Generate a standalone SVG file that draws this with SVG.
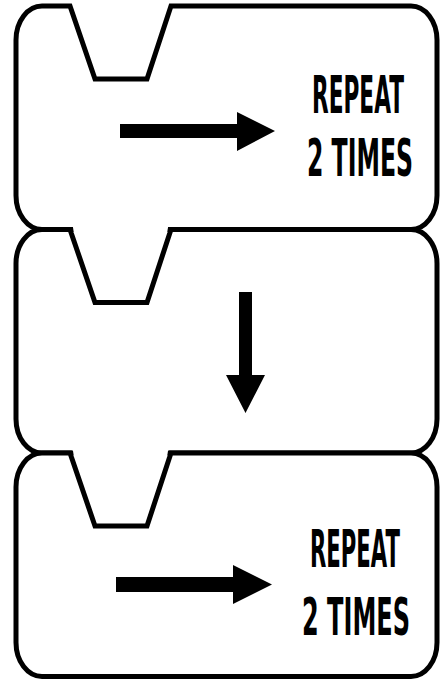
<svg xmlns="http://www.w3.org/2000/svg" xmlns:xlink="http://www.w3.org/1999/xlink" width="440" height="681" viewBox="0 0 440 681">
<style>
.blk{fill:#fff;stroke:#000;stroke-width:5;stroke-linejoin:miter}
.gap{fill:#fff;stroke:none}
.arr{fill:#000;stroke:none}
.lbl{font-family:"DejaVu Sans","Liberation Sans",sans-serif;font-weight:bold;font-size:51px;fill:#000}
</style>
<defs>
<path id="block" d="M42,0 H70 L95,73 H147 L171,0 H411 A26 34 0 0 1 437 34 V189.5 A26 34 0 0 1 411 223.5 H42 A26 34 0 0 1 16 189.5 V34 A26 34 0 0 1 42 0 Z"/>
<polygon id="notchgap" points="72.8,-3.2 168.2,-3.2 167.1,3.4 73.9,3.4"/>
</defs>
<rect width="440" height="681" fill="#fff"/>
<g id="block1">
<use xlink:href="#block" class="blk" transform="translate(0,6)"/>
<polygon class="arr" points="120,124 237,124 237,112 275,131 237,151 237,138 120,138"/>
<text class="lbl" transform="translate(312,113) scale(0.5,1)" textLength="184" lengthAdjust="spacingAndGlyphs">REPEAT</text>
<text class="lbl" transform="translate(307,176) scale(0.5,1)" textLength="212" lengthAdjust="spacingAndGlyphs">2 TIMES</text>
</g>
<g id="block2">
<use xlink:href="#block" class="blk" transform="translate(0,229.5)"/>
<use xlink:href="#notchgap" class="gap" transform="translate(0,229.5)"/>
<polygon class="arr" points="239,292 252,292 252,375 265,375 245.5,413 226,375 239,375"/>
</g>
<g id="block3">
<use xlink:href="#block" class="blk" transform="translate(0,453)"/>
<use xlink:href="#notchgap" class="gap" transform="translate(0,453)"/>
<polygon class="arr" points="116,577 233,577 233,565 272,584.5 233,604 233,592 116,592"/>
<text class="lbl" transform="translate(310,567) scale(0.5,1)" textLength="180" lengthAdjust="spacingAndGlyphs">REPEAT</text>
<text class="lbl" transform="translate(302,635) scale(0.5,1)" textLength="216" lengthAdjust="spacingAndGlyphs">2 TIMES</text>
</g>
<g id="connectors"></g>
</svg>
